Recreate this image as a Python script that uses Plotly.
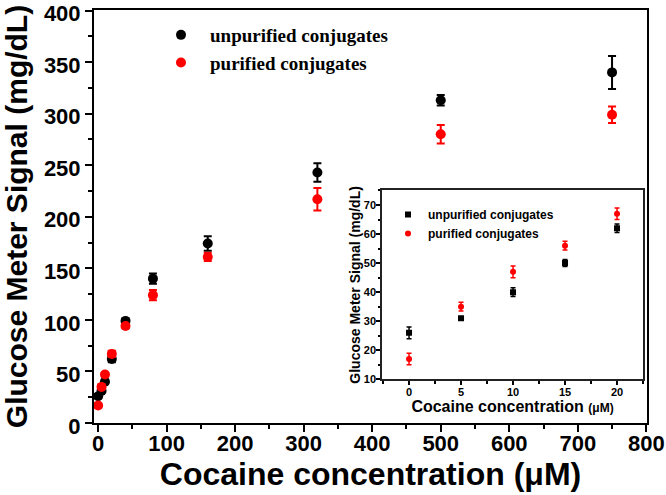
import plotly.graph_objects as go

# ---- main plot data ----
conc = [0, 5, 10, 20, 40, 80, 160, 320, 500, 750]
unpur = [26, 31, 40, 62, 99, 140, 174, 243, 313, 340]
unpur_err = [2, 1, 2, 3, 2, 5, 7, 9, 5, 16]
pur = [17, 35, 47, 67, 94, 124, 161, 217, 280, 299]
pur_err = [2, 2, 2, 3, 2, 5, 4, 11, 9, 8]

# ---- inset data ----
conc_in = [0, 5, 10, 15, 20]
unpur_in = [26, 31, 40, 50, 62]
unpur_in_err = [2, 0.5, 1.5, 1.2, 1.5]
pur_in = [17, 35, 47, 56, 67]
pur_in_err = [2, 1.5, 2, 1.5, 2]

SANS = "Liberation Sans, Arial, sans-serif"
SERIF = "Liberation Serif, Times New Roman, serif"

fig = go.Figure()

fig.add_trace(go.Scatter(
    x=conc, y=unpur, mode="markers", name="unpurified conjugates",
    marker=dict(color="black", size=10, symbol="circle"),
    error_y=dict(type="data", array=unpur_err, color="black", thickness=2, width=4),
    legend="legend", xaxis="x", yaxis="y"))
fig.add_trace(go.Scatter(
    x=conc, y=pur, mode="markers", name="purified conjugates",
    marker=dict(color="#ff0000", size=10, symbol="circle"),
    error_y=dict(type="data", array=pur_err, color="#ff0000", thickness=2, width=4),
    legend="legend", xaxis="x", yaxis="y"))

fig.add_trace(go.Scatter(
    x=conc_in, y=unpur_in, mode="markers", name="unpurified conjugates",
    marker=dict(color="black", size=6, symbol="square"),
    error_y=dict(type="data", array=unpur_in_err, color="black", thickness=1.5, width=2.5),
    legend="legend2", xaxis="x2", yaxis="y2"))
fig.add_trace(go.Scatter(
    x=conc_in, y=pur_in, mode="markers", name="purified conjugates",
    marker=dict(color="#ff0000", size=6, symbol="circle"),
    error_y=dict(type="data", array=pur_in_err, color="#ff0000", thickness=1.5, width=2.5),
    legend="legend2", xaxis="x2", yaxis="y2"))

fig.update_layout(
    width=666, height=495,
    margin=dict(l=94, r=19, t=10, b=72, autoexpand=False),
    paper_bgcolor="white", plot_bgcolor="white",
    font=dict(family=SANS, color="black"),
    xaxis=dict(
        domain=[0, 1], range=[-6, 801], automargin=False,
        tickmode="linear", tick0=0, dtick=100, ticklabeloverflow="allow",
        ticklabelstandoff=-7,
        ticks="outside", ticklen=7, tickwidth=2, tickcolor="black",
        minor=dict(dtick=50, ticks="outside", ticklen=4, tickwidth=2, tickcolor="black"),
        showline=True, linewidth=2, linecolor="black", mirror=True,
        showgrid=False, zeroline=False,
        tickfont=dict(family=SANS, size=22, color="black", weight="bold"),
        title=dict(text="<b>Cocaine concentration (μM)</b>",
                   font=dict(family=SANS, size=32, color="black"), standoff=4),
    ),
    yaxis=dict(
        domain=[0, 1], range=[0, 400.5], automargin=False,
        tickmode="linear", tick0=0, dtick=50, ticklabeloverflow="allow",
        ticklabelshift=3,
        ticks="outside", ticklen=7, tickwidth=2, tickcolor="black",
        minor=dict(dtick=25, ticks="outside", ticklen=4, tickwidth=2, tickcolor="black"),
        showline=True, linewidth=2, linecolor="black", mirror=True,
        showgrid=False, zeroline=False,
        tickfont=dict(family=SANS, size=22, color="black", weight="bold"),
        title=dict(text="<b>Glucose Meter Signal (mg/dL)</b>",
                   font=dict(family=SANS, size=30, color="black"), standoff=9),
    ),
    xaxis2=dict(
        domain=[0.5208, 0.9928], range=[-2.6, 22.5], anchor="y2", automargin=False,
        tickmode="linear", tick0=0, dtick=5, ticklabelstandoff=-2,
        ticks="outside", ticklen=4, tickwidth=1.5, tickcolor="black",
        minor=dict(dtick=2.5, ticks="outside", ticklen=2.5, tickwidth=1.5, tickcolor="black"),
        showline=True, linewidth=1.5, linecolor="#222222", mirror=True,
        showgrid=False, zeroline=False,
        tickfont=dict(family=SANS, size=11, color="black", weight="bold"),
        title=dict(text="<b>Cocaine concentration <span style='font-size:12px'>(μM)</span></b>",
                   font=dict(family=SANS, size=16, color="black"), standoff=1),
    ),
    yaxis2=dict(
        domain=[0.1058, 0.563], range=[10, 75], anchor="x2", automargin=False,
        tickmode="linear", tick0=10, dtick=10, ticklabelstandoff=-2,
        ticks="outside", ticklen=4, tickwidth=1.5, tickcolor="black",
        minor=dict(dtick=5, ticks="outside", ticklen=2.5, tickwidth=1.5, tickcolor="black"),
        showline=True, linewidth=1.5, linecolor="#222222", mirror=True,
        showgrid=False, zeroline=False,
        tickfont=dict(family=SANS, size=11, color="black", weight="bold"),
        title=dict(text="<b>Glucose Meter Signal (mg/dL)</b>",
                   font=dict(family=SANS, size=14, color="black"), standoff=0),
    ),
    legend=dict(
        x=(152 - 94) / 553, y=(423 - 16) / 413, xanchor="left", yanchor="top",
        bgcolor="rgba(0,0,0,0)", itemwidth=48, tracegroupgap=0,
        font=dict(family=SERIF, size=19, color="black", weight="bold"),
    ),
    legend2=dict(
        x=(388 - 94) / 553, y=(423 - 200) / 413, xanchor="left", yanchor="top",
        bgcolor="rgba(0,0,0,0)", itemwidth=30, tracegroupgap=0,
        font=dict(family=SANS, size=12, color="black", weight="bold"),
    ),
    showlegend=True,
)

fig.write_html("out.html", config={"displayModeBar": False},
               post_script="document.body.style.margin='0';document.body.style.padding='0';")
